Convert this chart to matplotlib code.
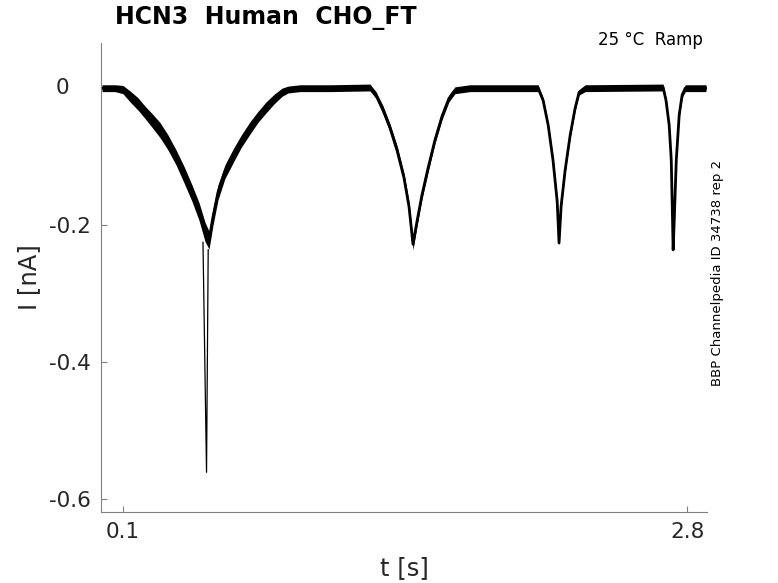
import numpy as np
import matplotlib
matplotlib.use('Agg')
import matplotlib.pyplot as plt
import matplotlib.transforms as mtransforms

# Trace (centre of the noisy band, time in s, current in nA)
trace_t = [0.000, 0.062, 0.100, 0.134, 0.172, 0.205, 0.239, 0.277, 0.315, 0.354,
           0.392, 0.430, 0.464, 0.493, 0.512, 0.531, 0.555, 0.588, 0.627, 0.665,
           0.708, 0.746, 0.785, 0.823, 0.861, 0.890, 0.947, 1.091, 1.282, 1.311,
           1.345, 1.378, 1.412, 1.445, 1.469, 1.488, 1.507, 1.531, 1.560, 1.593,
           1.627, 1.660, 1.689, 1.761, 2.087, 2.111, 2.135, 2.158, 2.178, 2.187,
           2.197, 2.216, 2.240, 2.264, 2.283, 2.312, 2.685, 2.699, 2.714, 2.724,
           2.733, 2.738, 2.748, 2.762, 2.776, 2.791, 2.890]
trace_i = [0.000, 0.000, -0.002, -0.012, -0.023, -0.035, -0.047, -0.061, -0.079, -0.101,
           -0.126, -0.153, -0.180, -0.210, -0.222, -0.188, -0.152, -0.122, -0.099, -0.078,
           -0.058, -0.042, -0.028, -0.016, -0.006, -0.002, 0.000, 0.000, 0.001, -0.010,
           -0.032, -0.058, -0.091, -0.131, -0.173, -0.228, -0.195, -0.156, -0.117, -0.076,
           -0.041, -0.015, -0.003, 0.000, 0.000, -0.018, -0.054, -0.105, -0.165, -0.226,
           -0.172, -0.120, -0.069, -0.029, -0.006, 0.000, 0.001, -0.018, -0.054, -0.105,
           -0.236, -0.195, -0.105, -0.039, -0.010, 0.000, 0.000]
# half thickness of the noise band (nA)
trace_noise = [0.005, 0.005, 0.006, 0.008, 0.009, 0.009, 0.010, 0.011, 0.011, 0.011,
               0.012, 0.012, 0.013, 0.014, 0.013, 0.012, 0.011, 0.010, 0.010, 0.009,
               0.009, 0.008, 0.008, 0.007, 0.006, 0.005, 0.005, 0.005, 0.005, 0.005,
               0.006, 0.006, 0.007, 0.007, 0.007, 0.008, 0.007, 0.006, 0.006, 0.005,
               0.005, 0.005, 0.005, 0.005, 0.005, 0.004, 0.004, 0.004, 0.004, 0.004,
               0.004, 0.004, 0.004, 0.004, 0.004, 0.005, 0.005, 0.004, 0.003, 0.003,
               0.003, 0.003, 0.003, 0.003, 0.004, 0.005, 0.005]

# the sharp transient inside the first trough
spike_t = [0.483, 0.500, 0.508]
spike_i = [-0.225, -0.561, -0.236]

xticks = [0.1, 2.8]
xticklabels = ['0.1', '2.8']
yticks = [-0.6, -0.4, -0.2]
yticklabels = ['-0.6', '-0.4', '-0.2']

title = 'HCN3  Human  CHO_FT'
condition = '25 \u00b0C  Ramp'
source = 'BBP Channelpedia ID 34738 rep 2'

plt.rcParams['font.family'] = ['DejaVu Sans']
fig = plt.figure(figsize=(7.78, 5.83), dpi=100)
ax = fig.add_axes([101 / 778, 71 / 583, 606 / 778, 469 / 583])

t = np.array(trace_t)
i = np.array(trace_i)
n = np.array(trace_noise)
ax.fill_between(t, i - n, i + n, color='black', linewidth=0)
ax.plot(t, i, color='black', lw=2.0)
ax.plot(spike_t, spike_i, color='black', lw=0.9)

ax.set_xlim(-0.005, 2.895)
ax.set_ylim(-0.619, 0.066)

for side in ['top', 'right']:
    ax.spines[side].set_visible(False)
for side in ['left', 'bottom']:
    ax.spines[side].set_color('#808080')
    ax.spines[side].set_linewidth(0.8)

ax.set_xticks(xticks)
ax.set_xticklabels(xticklabels)
ax.set_yticks(yticks)
ax.set_yticklabels(yticklabels)
ax.tick_params(direction='in', length=4, width=0.8, color='#808080',
               labelsize=15.5, labelcolor='#262626', pad=7)

# the "0" label sits away from the spine in the reference
ax.text(62 / 778, 0.0, '0', fontsize=15.5, color='#262626', ha='center', va='center',
        transform=mtransforms.blended_transform_factory(fig.transFigure, ax.transData))

ax.set_xlabel('t [s]', fontsize=17.5, color='#262626', labelpad=10)
ax.set_ylabel('I [nA]', fontsize=17.5, color='#262626', labelpad=6)

fig.text(115 / 778, 1 - 18 / 583, title, fontsize=17, fontweight='bold',
         ha='left', va='center')
fig.text(703 / 778, 1 - 40 / 583, condition, fontsize=12, ha='right', va='center')
fig.text(717 / 778, 1 - 273 / 583, source, fontsize=9.5, rotation=90,
         ha='center', va='center')

fig.savefig('out.png', dpi=100)
